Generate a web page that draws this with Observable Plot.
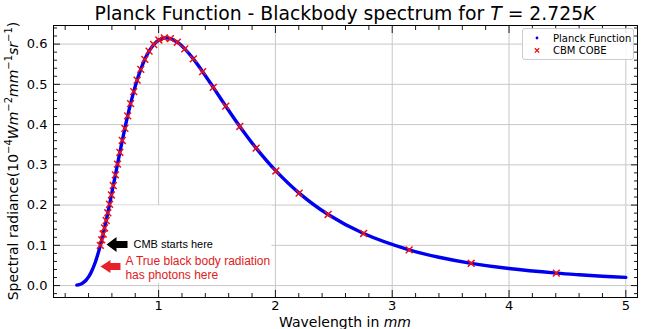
<!DOCTYPE html>
<html><head><meta charset="utf-8">
<script src="https://cdn.jsdelivr.net/npm/d3@7"></script>
<script src="https://cdn.jsdelivr.net/npm/@observablehq/plot@0.6"></script>
<style>body{margin:0;background:#fff} #chart svg{display:block}</style>
</head><body><div id="chart"></div>
<script>
// Planck curve (wavelength in mm, radiance)
const planckWl = [0.30,0.32,0.34,0.36,0.38,0.40,0.42,0.44,0.46,0.469,0.479,0.490,0.501,0.513,0.525,0.537,0.551,0.565,0.580,0.596,0.612,0.630,0.648,0.668,0.689,0.711,0.735,0.760,0.787,0.816,0.847,0.882,0.918,0.958,1.002,1.049,1.101,1.160,1.224,1.297,1.377,1.468,1.575,1.695,1.835,2.004,2.203,2.451,2.755,3.145,3.4,3.676,4.0,4.405,4.6,4.8,5.0];
const planckVal = [0.00111,0.00242,0.00472,0.00841,0.01389,0.02153,0.03163,0.04438,0.05987,0.06774,0.07711,0.08815,0.09995,0.11362,0.12806,0.14321,0.16165,0.18082,0.20199,0.22510,0.24856,0.27514,0.30168,0.33075,0.36053,0.39059,0.42173,0.45198,0.48187,0.51058,0.53715,0.56216,0.58245,0.59883,0.61007,0.61517,0.61366,0.60466,0.58818,0.56330,0.53154,0.49247,0.44580,0.39535,0.34144,0.28482,0.22984,0.17669,0.12946,0.08881,0.07037,0.05536,0.04240,0.03101,0.02688,0.02333,0.02033];
// COBE points
const cobeWl = [0.501,0.513,0.525,0.537,0.551,0.565,0.580,0.596,0.612,0.630,0.648,0.668,0.689,0.711,0.735,0.760,0.787,0.816,0.847,0.882,0.918,0.958,1.002,1.049,1.101,1.160,1.224,1.297,1.377,1.468,1.575,1.695,1.835,2.004,2.203,2.451,2.755,3.145,3.676,4.405];
const cobeVal = [0.09995,0.11362,0.12806,0.14321,0.16165,0.18082,0.20199,0.22510,0.24856,0.27514,0.30168,0.33075,0.36053,0.39059,0.42173,0.45198,0.48187,0.51058,0.53715,0.56216,0.58245,0.59883,0.61007,0.61517,0.61366,0.60466,0.58818,0.56330,0.53154,0.49247,0.44580,0.39535,0.34144,0.28482,0.22984,0.17669,0.12946,0.08881,0.05536,0.03101];
// ticks
const xMajorTicks = [1,2,3,4,5];
const xMinorTicks = [0.2,0.4,0.6,0.8,1.2,1.4,1.6,1.8,2.2,2.4,2.6,2.8,3.2,3.4,3.6,3.8,4.2,4.4,4.6,4.8];
const yMajorTicks = [0,0.1,0.2,0.3,0.4,0.5,0.6];
const yMinorTicks = [-0.02,0.02,0.04,0.06,0.08,0.12,0.14,0.16,0.18,0.22,0.24,0.26,0.28,0.32,0.34,0.36,0.38,0.42,0.44,0.46,0.48,0.52,0.54,0.56,0.58,0.62,0.64];
const xDomain = [0.1, 5.1];
const yDomain = [-0.0296, 0.6462];
// texts
const titleText = ["Planck Function - Blackbody spectrum for ", "T", " = 2.725", "K"];
const xLabel = ["Wavelength in ", "mm"];
const legendLabels = ["Planck Function", "CBM COBE"];
// annotations (data coordinates)
const noteBlackText = ["CMB starts here"];
const noteBlackPos = [[0.785, 0.1021]];
const noteRedText = ["A True black body radiation\nhas photons here"];
const noteRedPos = [[0.716, 0.0445]];
const arrowBlackPos = [[0.554, 0.1021]];
const arrowRedPos = [[0.502, 0.0474]];
const coverBox = [[0.54, 1.97, 0.006, 0.198]];

const planck = planckWl.map((w, i) => ({w, v: planckVal[i]}));
const cobe = cobeWl.map((w, i) => ({w, v: cobeVal[i]}));

function blockArrow(bodyHalf, headHalf, headLen) {
  return {draw(ctx, l) {
    ctx.moveTo(0, 0);
    ctx.lineTo(headLen, -headHalf);
    ctx.lineTo(headLen, -bodyHalf);
    ctx.lineTo(l, -bodyHalf);
    ctx.lineTo(l, bodyHalf);
    ctx.lineTo(headLen, bodyHalf);
    ctx.lineTo(headLen, headHalf);
    ctx.closePath();
  }};
}

const W = 649, H = 329;
const gridStyle = {stroke: "#c8c8c8", strokeOpacity: 1, strokeWidth: 1};
const tickAxis = (fn, data, anchor, size) => fn(data, {anchor, tickSize: -size, fill: "none", label: null, stroke: "black", strokeWidth: 0.9});

const plot = Plot.plot({
  width: W, height: H,
  marginLeft: 53, marginRight: 12, marginTop: 25, marginBottom: 32,
  x: {domain: xDomain, axis: null},
  y: {domain: yDomain, axis: null},
  style: {fontFamily: "DejaVu Sans", background: "white", color: "black"},
  marks: [
    Plot.gridX(xMajorTicks, gridStyle),
    Plot.gridY(yMajorTicks, gridStyle),
    Plot.rect(coverBox, {x1: d => d[0], x2: d => d[1], y1: d => d[2], y2: d => d[3], fill: "white"}),
    Plot.line(planck, {x: "w", y: "v", stroke: "#0000f0", strokeWidth: 3.4, curve: "catmull-rom"}),
    Plot.dot(cobe, {x: "w", y: "v", symbol: "times", r: 3.2, stroke: "#ee1111", strokeWidth: 1.5}),
    Plot.vector(arrowBlackPos, {x: d => d[0], y: d => d[1], anchor: "start", length: 21, shape: blockArrow(3.5, 7.5, 10), fill: "black", stroke: "none"}),
    Plot.vector(arrowRedPos, {x: d => d[0], y: d => d[1], anchor: "start", length: 20, shape: blockArrow(3.5, 6.5, 10), fill: "#e8202a", stroke: "none"}),
    Plot.text(noteBlackText, {x: (d, i) => noteBlackPos[i][0], y: (d, i) => noteBlackPos[i][1], text: d => d, textAnchor: "start", lineAnchor: "middle", fill: "black", fontFamily: "Liberation Sans", fontSize: 11}),
    Plot.text(noteRedText, {x: (d, i) => noteRedPos[i][0], y: (d, i) => noteRedPos[i][1], text: d => d, textAnchor: "start", lineAnchor: "middle", fill: "#e02020", fontFamily: "Liberation Sans", fontSize: 12, lineHeight: 1.17}),
    Plot.frame({stroke: "black", strokeWidth: 1}),
    tickAxis(Plot.axisX, xMajorTicks, "bottom", 7),
    tickAxis(Plot.axisX, xMajorTicks, "top", 7),
    tickAxis(Plot.axisX, xMinorTicks, "bottom", 4),
    tickAxis(Plot.axisX, xMinorTicks, "top", 4),
    tickAxis(Plot.axisY, yMajorTicks, "left", 7),
    tickAxis(Plot.axisY, yMajorTicks, "right", 7),
    tickAxis(Plot.axisY, yMinorTicks, "left", 4),
    tickAxis(Plot.axisY, yMinorTicks, "right", 4),
    Plot.axisX(xMajorTicks, {anchor: "bottom", tickSize: 0, tickPadding: 3, fontSize: 13, label: null, fill: "black", tickFormat: d => String(d)}),
    Plot.axisY(yMajorTicks, {anchor: "left", tickSize: 0, tickPadding: 6, fontSize: 13, label: null, tickFormat: d3.format(".1f"), fill: "black"})
  ]
});
document.getElementById("chart").append(plot);

const svg = d3.select(plot);
const xr = plot.scale("x").range, yr = plot.scale("y").range;
const cx = (xr[0] + xr[1]) / 2, cy = (yr[0] + yr[1]) / 2;

// title
const t = svg.append("text").attr("x", cx).attr("y", 19.5).attr("text-anchor", "middle")
  .attr("font-family", "DejaVu Sans").attr("font-size", 18.8).attr("fill", "black");
titleText.forEach((s, i) => t.append("tspan").attr("font-style", i % 2 ? "italic" : null).text(s));

// x label
const xl = svg.append("text").attr("x", cx).attr("y", 327).attr("text-anchor", "middle")
  .attr("font-family", "DejaVu Sans").attr("font-size", 14).attr("fill", "black");
xl.append("tspan").text(xLabel[0]);
xl.append("tspan").attr("font-style", "italic").text(xLabel[1]);

// y label
const yl = svg.append("text").attr("transform", `translate(18,${cy}) rotate(-90)`).attr("text-anchor", "middle")
  .attr("font-family", "DejaVu Sans").attr("font-size", 14).attr("fill", "black");
const yParts = [["Spectral radiance(10", null, false], ["\u22124", "sup", false], ["Wm", null, true], ["\u22122", "sup", false], ["mm", null, true], ["\u22121", "sup", false], ["sr", null, true], ["\u22121", "sup", false], [")", null, false]];
let prevSup = false;
yParts.forEach(([s, kind, it]) => {
  const ts = yl.append("tspan").text(s);
  if (it) ts.attr("font-style", "italic");
  if (kind === "sup") { ts.attr("font-size", 10).attr("dy", -6); prevSup = true; }
  else if (prevSup) { ts.attr("dy", 6); prevSup = false; }
});

// legend
const lg = svg.append("g").attr("font-family", "DejaVu Sans").attr("font-size", 10).attr("text-anchor", "start");
lg.append("rect").attr("x", 522.5).attr("y", 28.5).attr("width", 111).attr("height", 31).attr("rx", 2.5)
  .attr("fill", "white").attr("fill-opacity", 0.85).attr("stroke", "#cccccc");
lg.append("circle").attr("cx", 537).attr("cy", 38).attr("r", 1.4).attr("fill", "#0000f0");
lg.append("path").attr("d", "M534.8,48.2L539.2,52.6M539.2,48.2L534.8,52.6").attr("stroke", "#ee1111").attr("stroke-width", 1.3);
lg.append("text").attr("x", 553).attr("y", 41.5).attr("text-anchor", "start").text(legendLabels[0]);
lg.append("text").attr("x", 553).attr("y", 54).attr("text-anchor", "start").text(legendLabels[1]);
</script></body></html>
